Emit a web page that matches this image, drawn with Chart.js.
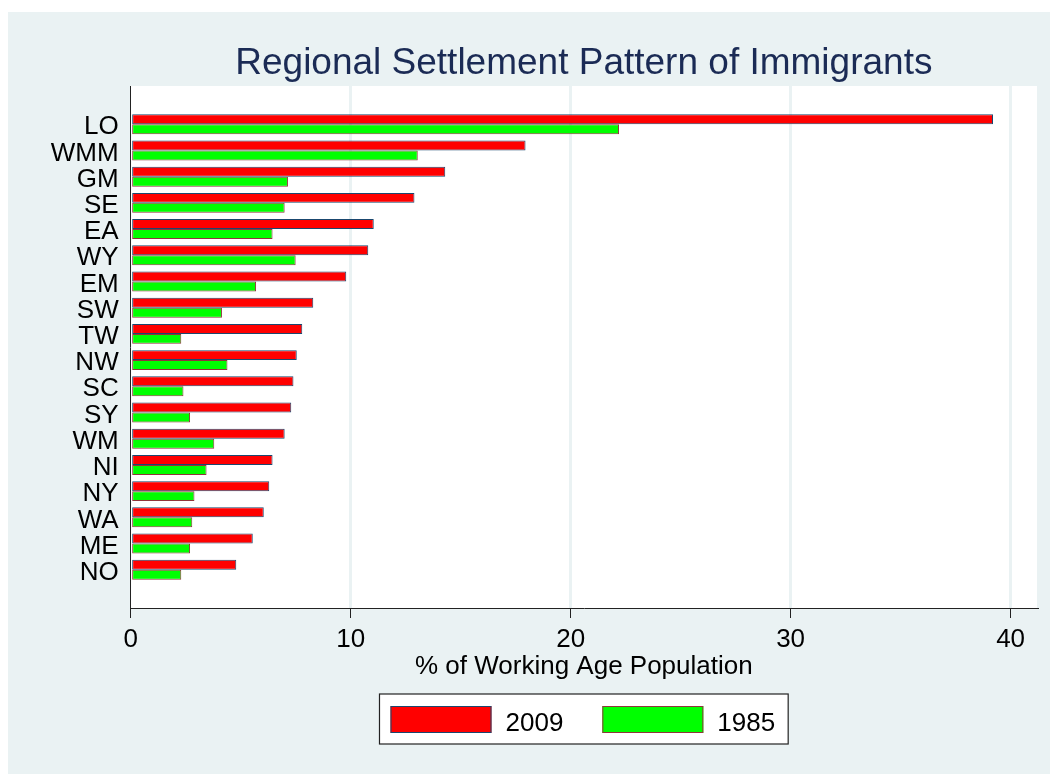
<!DOCTYPE html>
<html>
<head>
<meta charset="utf-8">
<script src="https://cdn.jsdelivr.net/npm/chart.js@4.4.1/dist/chart.umd.min.js"></script>
<style>
  html, body { margin: 0; padding: 0; background: #ffffff; }
  #wrap { width: 1050px; height: 774px; }
</style>
</head>
<body>
<div id="wrap"><canvas id="c" width="1050" height="774"></canvas></div>
<script>
const categories = ['LO','WMM','GM','SE','EA','WY','EM','SW','TW','NW','SC','SY','WM','NI','NY','WA','ME','NO'];
const values2009 = [39.2, 17.95, 14.3, 12.9, 11.05, 10.8, 9.8, 8.3, 7.8, 7.55, 7.4, 7.3, 7.0, 6.45, 6.3, 6.05, 5.55, 4.8];
const values1985 = [22.2, 13.05, 7.15, 7.0, 6.45, 7.5, 5.7, 4.15, 2.3, 4.4, 2.4, 2.7, 3.8, 3.45, 2.9, 2.8, 2.7, 2.3];
const seriesLabels = ['2009', '1985'];
const xTickValues = [0, 10, 20, 30, 40];
const chartTitle = 'Regional Settlement Pattern of Immigrants';
const xAxisTitle = '% of Working Age Population';

const FONT = '"Liberation Sans", Arial, Helvetica, sans-serif';
const BG = '#EAF2F3';

const bgPlugin = {
  id: 'bgPlugin',
  beforeDraw(chart) {
    const ctx = chart.ctx, ca = chart.chartArea;
    ctx.save();
    ctx.fillStyle = '#ffffff';
    ctx.fillRect(0, 0, chart.width, chart.height);
    ctx.fillStyle = BG;
    ctx.fillRect(8, 12, chart.width - 8, chart.height - 12);
    ctx.fillStyle = '#ffffff';
    ctx.fillRect(ca.left, ca.top, ca.right - ca.left, ca.bottom - ca.top);
    ctx.restore();
  }
};

const boxLegend = {
  id: 'boxLegend',
  afterDraw(chart) {
    const ctx = chart.ctx, ca = chart.chartArea;
    ctx.save();
    ctx.font = '26px ' + FONT;
    const sw = 101, sh = 27, gapText = 14, gapItem = 39, padL = 11, padR = 13, bh = 50;
    const items = chart.data.datasets.map(ds => ({ ds, w: ctx.measureText(ds.label).width }));
    const total = padL + padR + items.reduce((a, it) => a + sw + gapText + it.w, 0) + gapItem * (items.length - 1);
    const cx = (ca.left + ca.right) / 2;
    const bx = cx - total / 2;
    const by = ca.bottom + 86;
    ctx.fillStyle = '#ffffff';
    ctx.fillRect(bx, by, total, bh);
    ctx.strokeStyle = '#222222';
    ctx.lineWidth = 1.2;
    ctx.strokeRect(bx, by, total, bh);
    let x = bx + padL;
    items.forEach(it => {
      ctx.fillStyle = it.ds.backgroundColor;
      ctx.fillRect(x, by + 12, sw, sh);
      ctx.strokeStyle = it.ds.borderColor;
      ctx.lineWidth = 1;
      ctx.strokeRect(x + 0.5, by + 12.5, sw - 1, sh - 1);
      ctx.fillStyle = '#000000';
      ctx.textBaseline = 'alphabetic';
      ctx.textAlign = 'left';
      ctx.fillText(it.ds.label, x + sw + gapText, by + 36.5);
      x += sw + gapText + it.w + gapItem;
    });
    ctx.restore();
  }
};

const ds2009 = values2009.map((v, i) => ({ x: v, y: i }));
const ds1985 = values1985.map((v, i) => ({ x: v, y: i }));

new Chart(document.getElementById('c'), {
  type: 'bar',
  data: {
    datasets: [
      { label: seriesLabels[0], data: ds2009, backgroundColor: '#FF0000', borderColor: '#1a476f', borderWidth: 1, borderSkipped: false },
      { label: seriesLabels[1], data: ds1985, backgroundColor: '#00FF00', borderColor: '#90353b', borderWidth: 1, borderSkipped: false }
    ]
  },
  options: {
    indexAxis: 'y',
    responsive: false,
    animation: false,
    devicePixelRatio: 1,
    categoryPercentage: 0.76,
    barPercentage: 1.0,
    layout: { padding: { top: 12, right: 13, bottom: 86, left: 0 } },
    plugins: {
      legend: { display: false },
      tooltip: { enabled: false },
      title: {
        display: true,
        text: chartTitle,
        fullSize: false,
        color: '#1b2b55',
        font: { family: FONT, size: 37, weight: 'normal', lineHeight: 1.2 },
        padding: { top: 29.4, bottom: 0.2 }
      }
    },
    scales: {
      x: {
        type: 'linear',
        position: 'bottom',
        bounds: 'data',
        offset: false,
        min: 0,
        max: 41.2,
        afterBuildTicks: (scale) => { scale.ticks = xTickValues.map(v => ({ value: v })); },
        afterFit: (scale) => { scale.height = 80; },
        ticks: {
          color: '#000000',
          font: { family: FONT, size: 26 },
          padding: 6,
          maxRotation: 0,
          autoSkip: false
        },
        grid: {
          color: (ctx) => (ctx.tick && ctx.tick.value === 0) ? 'rgba(0,0,0,0)' : BG,
          lineWidth: 3,
          drawTicks: true,
          tickLength: 10,
          tickColor: '#222222',
          tickWidth: 1
        },
        border: { display: true, color: '#222222', width: 1 },
        title: {
          display: true,
          text: xAxisTitle,
          color: '#000000',
          font: { family: FONT, size: 26 },
          padding: { top: 0, bottom: 6 }
        }
      },
      y: {
        type: 'linear',
        reverse: true,
        bounds: 'data',
        offset: false,
        min: -1.46,
        max: 18.46,
        afterBuildTicks: (scale) => { scale.ticks = categories.map((_, i) => ({ value: i })); },
        afterFit: (scale) => { scale.width = 130.67; },
        ticks: {
          color: '#000000',
          font: { family: FONT, size: 26 },
          padding: 12,
          labelOffset: 3,
          stepSize: 1,
          autoSkip: false,
          callback: (value) => categories[value]
        },
        grid: { display: false, drawTicks: false, offset: false },
        border: { display: true, color: '#222222', width: 1 }
      }
    }
  },
  plugins: [bgPlugin, boxLegend]
});
</script>
</body>
</html>
